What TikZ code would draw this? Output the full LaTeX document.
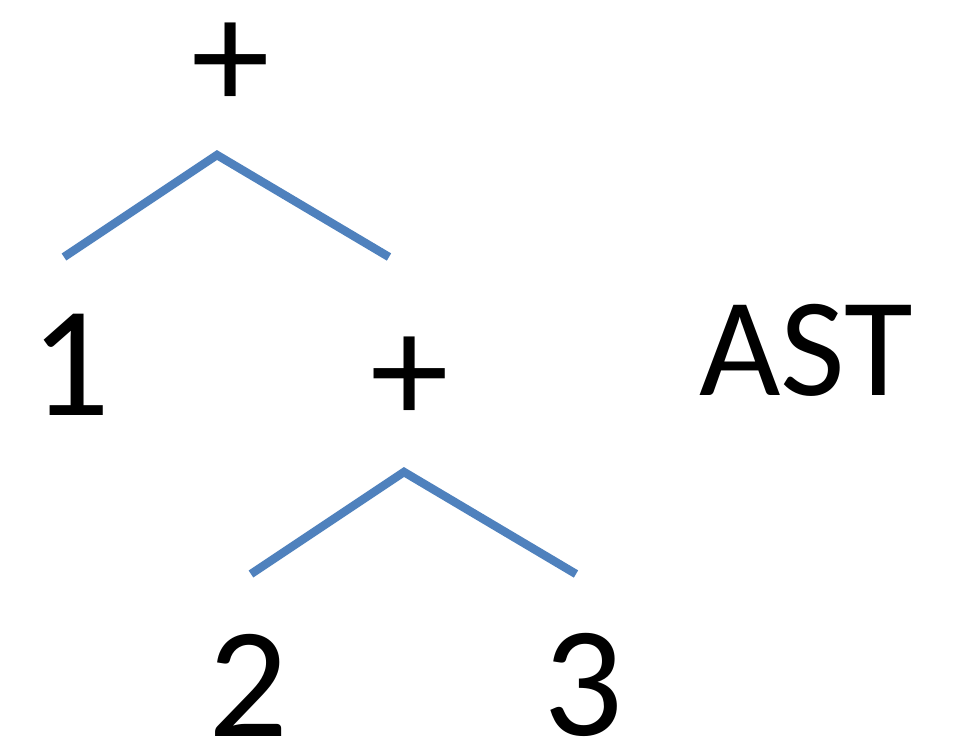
\documentclass[tikz,border=0pt]{standalone}
\usepackage{fontspec}
\setmainfont{Carlito}
\usepackage{tikz}

\begin{document}
\begin{tikzpicture}[x=0.0125cm, y=-0.0125cm,
  every node/.style={font=\fontsize{56}{60}\selectfont, inner sep=0pt},
  edge/.style={line width=3pt, draw={rgb,255:red,79;green,129;blue,189}}]
  \useasboundingbox (0,0) rectangle (968,744);
  % labels
  \node (plus1) at (231,66) {+};
  \node (one) at (70,365) {1};
  \node (plus2) at (410,380) {+};
  \node (two) at (248,685) {2};
  \node (three) at (583,685) {3};
  \node[font=\fontsize{50}{60}\selectfont] (ast) at (806,350) {AST};
  % branches
  \coordinate (top1) at (217,155);
  \coordinate (left1) at (64,257);
  \coordinate (right1) at (389,257);
  \coordinate (top2) at (404,472);
  \coordinate (left2) at (251,574);
  \coordinate (right2) at (576,574);
  \draw[edge] (left1) -- (top1) -- (right1);
  \draw[edge] (left2) -- (top2) -- (right2);
\end{tikzpicture}
\end{document}
